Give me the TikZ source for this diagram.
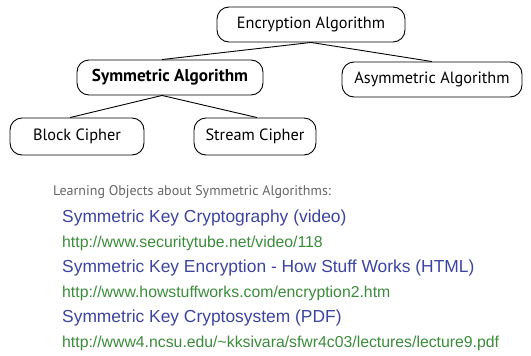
\documentclass[tikz,border=0pt]{standalone}
\usepackage{fontspec}
\setmainfont{PT Sans}
\newfontfamily\linkfont{Liberation Sans}
\begin{document}
\begin{tikzpicture}[x=1pt,y=-1pt,
  pill/.style={draw=black, line width=0.9pt, rounded corners=12pt, minimum height=35pt, inner sep=0pt, font=\fontsize{16.3}{19}\selectfont},
  edge/.style={draw=black, line width=0.9pt},
  heading/.style={anchor=west, inner sep=0pt, text=black!60, font=\fontsize{14}{16}\selectfont},
  title/.style={anchor=west, inner sep=0pt, text=linkblue, font=\linkfont\fontsize{17.4}{20}\selectfont},
  url/.style={anchor=west, inner sep=0pt, text=linkgreen, font=\linkfont\fontsize{15.8}{18}\selectfont}]
\definecolor{linkblue}{RGB}{60,68,160}
\definecolor{linkgreen}{RGB}{58,140,58}
\useasboundingbox (0,0) rectangle (531,356);

% concept hierarchy
\node[pill, minimum width=188pt] (enc) at (311,24.5) {Encryption Algorithm};
\node[pill, minimum width=186pt, font=\bfseries\fontsize{17.2}{20}\selectfont] (sym) at (170,77.5) {Symmetric Algorithm};
\node[pill, minimum width=180pt] (asym) at (432,79.5) {Asymmetric Algorithm};
\node[pill, minimum width=134pt, minimum height=37pt] (block) at (77,136.5) {Block Cipher};
\node[pill, minimum width=122pt, minimum height=37pt] (stream) at (255,136.5) {Stream Cipher};

\draw[edge] (enc.south) -- ([xshift=-8pt]sym.north);
\draw[edge] (enc.south) -- (asym.north);
\draw[edge] ([xshift=-8pt]sym.south) -- ([xshift=-7pt]block.north);
\draw[edge] ([xshift=-8pt]sym.south) -- ([xshift=2pt]stream.north);

% learning objects
\node[heading] (lo) at (53,192) {Learning Objects about Symmetric Algorithms:};
\node[title] (t1) at (62,218) {Symmetric Key Cryptography (video)};
\node[url] (u1) at (62,243) {http://www.securitytube.net/video/118};
\node[title] (t2) at (62,268) {Symmetric Key Encryption - How Stuff Works (HTML)};
\node[url] (u2) at (62,293) {http://www.howstuffworks.com/encryption2.htm};
\node[title] (t3) at (62,318) {Symmetric Key Cryptosystem (PDF)};
\node[url] (u3) at (62,343) {http://www4.ncsu.edu/\string~kksivara/sfwr4c03/lectures/lecture9.pdf};
\end{tikzpicture}
\end{document}
